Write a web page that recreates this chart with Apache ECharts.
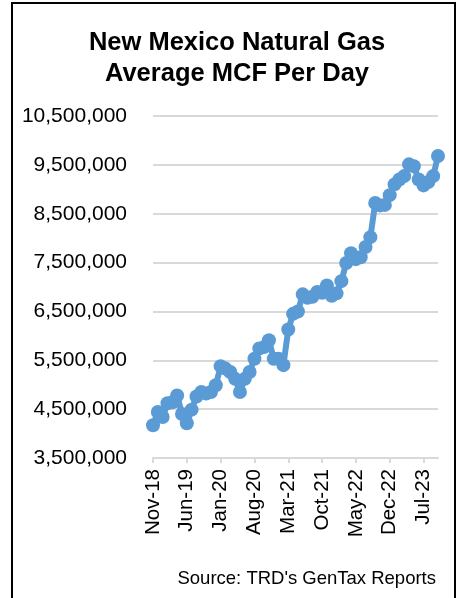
<!DOCTYPE html>
<html>
<head>
<meta charset="utf-8">
<script src="https://cdn.jsdelivr.net/npm/echarts@6/dist/echarts.min.js"></script>
<style>
  html, body { margin: 0; padding: 0; background: #fff; }
  #chart { width: 461px; height: 598px; }
</style>
</head>
<body>
<div id="chart"></div>
<script>
// months Nov-18 .. Oct-23
const months = [
  'Nov-18', 'Dec-18',
  'Jan-19', 'Feb-19', 'Mar-19', 'Apr-19', 'May-19', 'Jun-19', 'Jul-19', 'Aug-19', 'Sep-19', 'Oct-19', 'Nov-19', 'Dec-19',
  'Jan-20', 'Feb-20', 'Mar-20', 'Apr-20', 'May-20', 'Jun-20', 'Jul-20', 'Aug-20', 'Sep-20', 'Oct-20', 'Nov-20', 'Dec-20',
  'Jan-21', 'Feb-21', 'Mar-21', 'Apr-21', 'May-21', 'Jun-21', 'Jul-21', 'Aug-21', 'Sep-21', 'Oct-21', 'Nov-21', 'Dec-21',
  'Jan-22', 'Feb-22', 'Mar-22', 'Apr-22', 'May-22', 'Jun-22', 'Jul-22', 'Aug-22', 'Sep-22', 'Oct-22', 'Nov-22', 'Dec-22',
  'Jan-23', 'Feb-23', 'Mar-23', 'Apr-23', 'May-23', 'Jun-23', 'Jul-23', 'Aug-23', 'Sep-23', 'Oct-23'
]

// average MCF per day
const mcfPerDay = [
  4170000, 4440000,
  4340000, 4620000, 4640000, 4780000, 4400000, 4210000, 4490000, 4760000, 4850000, 4820000, 4850000, 4990000,
  5380000, 5330000, 5260000, 5120000, 4850000, 5120000, 5260000, 5530000, 5740000, 5770000, 5910000, 5530000,
  5530000, 5400000, 6130000, 6450000, 6500000, 6850000, 6780000, 6800000, 6900000, 6880000, 7030000, 6820000,
  6870000, 7120000, 7490000, 7690000, 7570000, 7610000, 7820000, 8020000, 8720000, 8670000, 8680000, 8880000,
  9100000, 9200000, 9270000, 9510000, 9470000, 9200000, 9080000, 9150000, 9270000, 9680000
]

const yMin = 3500000
const yMax = 10500000
const yStep = 1000000

const chart = echarts.init(document.getElementById('chart'))
chart.setOption({
  animation: false,
  title: {
    text: 'New Mexico Natural Gas\nAverage MCF Per Day',
    left: 232,
    textAlign: 'center',
    top: 22,
    textStyle: {
      fontFamily: 'Liberation Sans, Arial, sans-serif',
      fontWeight: 'bold',
      fontSize: 25.5,
      lineHeight: 31,
      color: '#000'
    }
  },
  graphic: [
    {
      type: 'rect',
      shape: { x: 12, y: 3, width: 443, height: 700 },
      style: { fill: 'none', stroke: '#000', lineWidth: 2 },
      silent: true
    },
    {
      type: 'text',
      right: 25,
      top: 569,
      style: {
        text: "Source: TRD's GenTax Reports",
        font: '18.5px "Liberation Sans", Arial, sans-serif',
        fill: '#000'
      }
    }
  ],
  grid: {
    left: 153,
    right: 23,
    top: 116,
    bottom: 140,
    containLabel: false
  },
  xAxis: {
    type: 'category',
    data: months,
    boundaryGap: false,
    axisLine: { lineStyle: { color: '#D9D9D9', width: 2 } },
    axisTick: { show: true, interval: 6, length: 5, lineStyle: { color: '#D9D9D9', width: 2 } },
    axisLabel: {
      interval: 6,
      rotate: 90,
      margin: 11,
      fontFamily: 'Liberation Sans, Arial, sans-serif',
      fontSize: 20.5,
      color: '#000'
    },
    splitLine: { show: false }
  },
  yAxis: {
    type: 'value',
    min: yMin,
    max: yMax,
    interval: yStep,
    axisLine: { show: false },
    axisTick: { show: false },
    axisLabel: {
      margin: 26,
      fontFamily: 'Liberation Sans, Arial, sans-serif',
      fontSize: 21,
      color: '#000',
      formatter: v => v.toLocaleString('en-US')
    },
    splitLine: { lineStyle: { color: '#D9D9D9', width: 2 } }
  },
  series: [{
    type: 'line',
    data: mcfPerDay,
    symbol: 'circle',
    symbolSize: 14,
    showAllSymbol: true,
    lineStyle: { color: '#5B9BD5', width: 6 },
    itemStyle: { color: '#5B9BD5' }
  }]
})
</script>
</body>
</html>
